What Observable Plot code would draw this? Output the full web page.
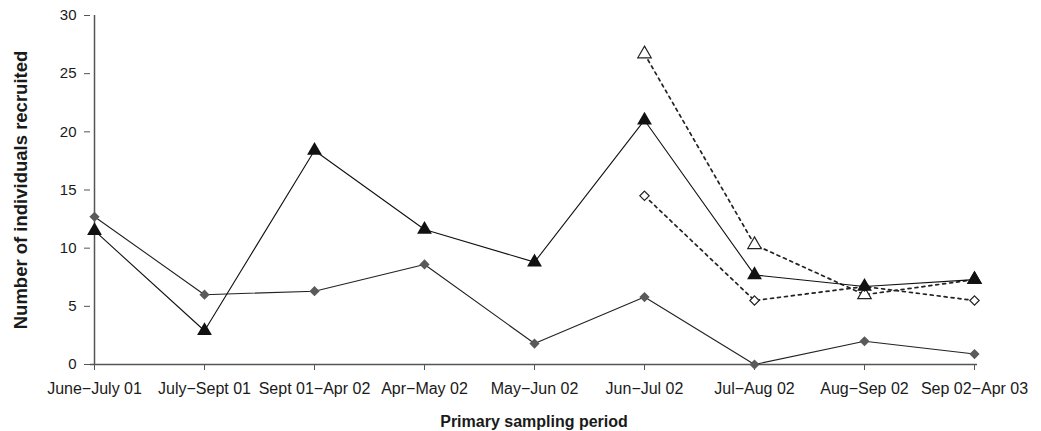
<!DOCTYPE html>
<html>
<head>
<meta charset="utf-8">
<script src="https://cdn.jsdelivr.net/npm/d3@7"></script>
<script src="https://cdn.jsdelivr.net/npm/@observablehq/plot@0.6"></script>
<style>
  html, body { margin: 0; padding: 0; background: #fff; }
  svg text { fill: #1a1a1a; }
  g[aria-label="y-axis label"] text { font-weight: bold; font-size: 18.5px; }
  g[aria-label="x-axis label"] text { font-weight: bold; font-size: 16px; }
</style>
</head>
<body>
<div id="chart"></div>
<script>
const periods = ["June\u2212July 01", "July\u2212Sept 01", "Sept 01\u2212Apr 02", "Apr\u2212May 02", "May\u2212Jun 02", "Jun\u2212Jul 02", "Jul\u2212Aug 02", "Aug\u2212Sep 02", "Sep 02\u2212Apr 03"];
const filledTriangle = [11.5, 2.9, 18.4, 11.6, 8.8, 21.0, 7.7, 6.7, 7.3];
const filledDiamond = [12.7, 6.0, 6.3, 8.6, 1.8, 5.8, 0.0, 2.0, 0.9];
const openTriangle = [null, null, null, null, null, 26.7, 10.3, 6.0, 7.3];
const openDiamond = [null, null, null, null, null, 14.5, 5.5, 6.7, 5.5];
const yTicks = [0, 5, 10, 15, 20, 25, 30];

const toRows = (vals) => periods.map((p, i) => ({period: p, value: vals[i]})).filter(d => d.value != null);
const triRows = toRows(filledTriangle);
const diaRows = toRows(filledDiamond);
const oTriRows = toRows(openTriangle);
const oDiaRows = toRows(openDiamond);

const axisColor = "#555";

const chart = Plot.plot({
  width: 1041,
  height: 431,
  marginLeft: 90,
  marginRight: 64,
  marginTop: 15,
  marginBottom: 67,
  style: { fontFamily: "'Liberation Sans', Arial, sans-serif", fontSize: "15px", color: "#1a1a1a", background: "#fff" },
  x: { type: "point", domain: periods, padding: 0 },
  y: { domain: [0, 30] },
  marks: [
    Plot.ruleX([periods[0]], { stroke: axisColor, strokeWidth: 1.5, y1: 0, y2: 30 }),
    Plot.ruleY([0], { stroke: axisColor, strokeWidth: 1.5 }),
    Plot.axisY(yTicks, { ticks: yTicks, tickSize: 6, tickPadding: 8, stroke: axisColor, label: "Number of individuals recruited", labelAnchor: "center", labelArrow: "none", labelOffset: 77, fontSize: 15 }),
    Plot.axisX({ tickSize: 6, tickPadding: 12, stroke: axisColor, label: "Primary sampling period", labelAnchor: "center", labelArrow: "none", labelOffset: 62, fontSize: 16 }),
    Plot.line(oTriRows, { x: "period", y: "value", stroke: "#222", strokeWidth: 1.7, strokeDasharray: "3,4" }),
    Plot.line(oDiaRows, { x: "period", y: "value", stroke: "#222", strokeWidth: 1.7, strokeDasharray: "3,4" }),
    Plot.line(diaRows, { x: "period", y: "value", stroke: "#222", strokeWidth: 1.1 }),
    Plot.line(triRows, { x: "period", y: "value", stroke: "#111", strokeWidth: 1.1 }),
    Plot.dot(oTriRows, { x: "period", y: "value", symbol: "triangle", r: 5, fill: "#fff", stroke: "#222", strokeWidth: 1.2 }),
    Plot.dot(oDiaRows, { x: "period", y: "value", symbol: "diamond2", r: 4.2, fill: "#fff", stroke: "#222", strokeWidth: 1.2 }),
    Plot.dot(diaRows, { x: "period", y: "value", symbol: "diamond2", r: 4.6, fill: "#5a5a5a", stroke: "none" }),
    Plot.dot(triRows, { x: "period", y: "value", symbol: "triangle", r: 5.5, fill: "#111", stroke: "none" })
  ]
});
document.getElementById("chart").appendChild(chart);
</script>
</body>
</html>
